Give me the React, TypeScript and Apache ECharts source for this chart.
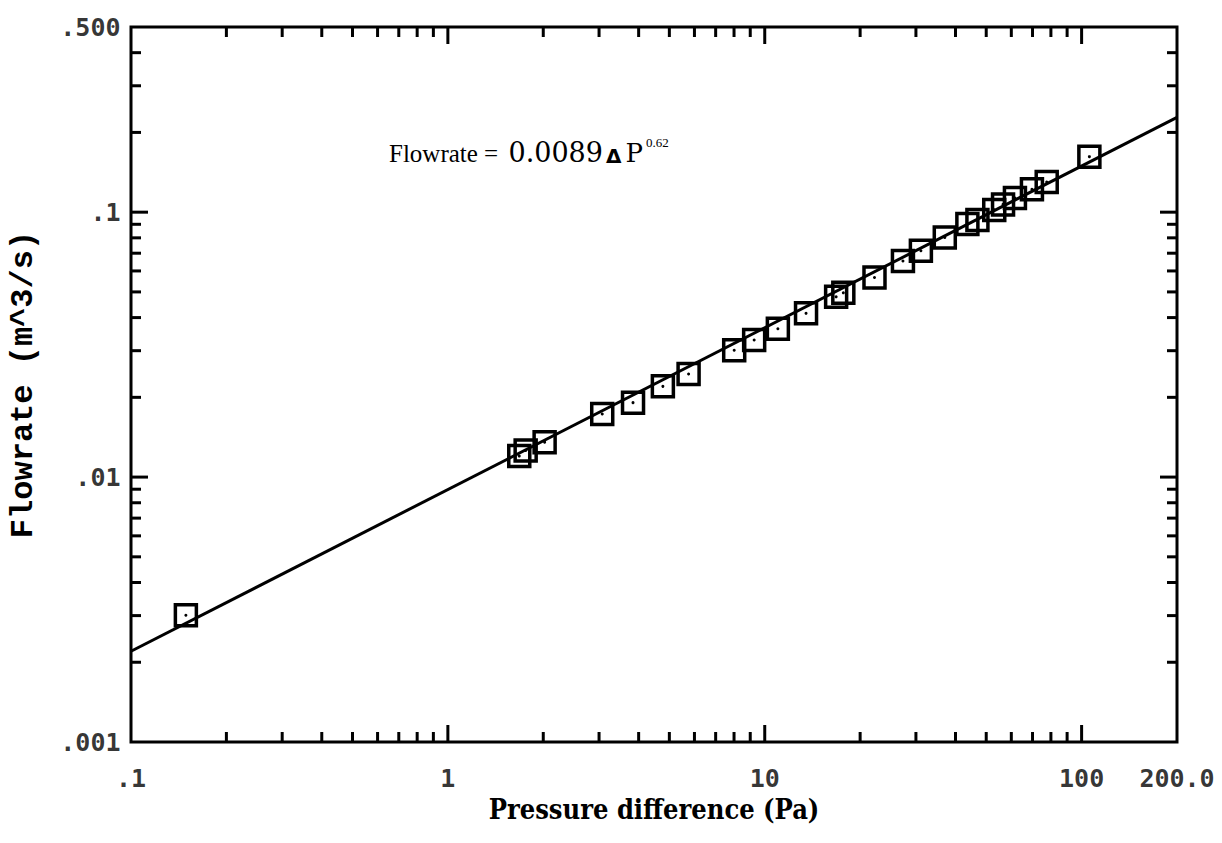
import React, { useEffect, useRef } from "react";
import * as echarts from "echarts";

const pressure = [0.149, 1.68, 1.76, 2.02, 3.07, 3.84, 4.77, 5.75, 8.01, 9.26, 11.0, 13.5, 16.8, 17.7, 22.2, 27.3, 31.1, 37.0, 43.6, 46.9, 53.0, 56.5, 61.6, 69.7, 77.6, 105.8];
const flowrate = [0.00301, 0.0120, 0.0126, 0.01355, 0.0173, 0.0191, 0.0220, 0.0245, 0.0301, 0.0329, 0.0363, 0.0415, 0.0479, 0.0496, 0.0567, 0.0654, 0.0715, 0.0803, 0.0902, 0.0935, 0.102, 0.107, 0.113, 0.122, 0.130, 0.162];

// Fitted line end points
const fitX = [0.1, 200];
const fitY = [0.0022, 0.228];

// Axis ranges and tick labels
const xMin = 0.1;
const xMax = 200;
const yMin = 0.001;
const yMax = 0.5;
const xLabelValues = [0.1, 1, 10, 100, 200];
const xLabelTexts = [".1", "1", "10", "100", "200.0"];
const yLabelValues = [0.001, 0.01, 0.1, 0.5];
const yLabelTexts = [".001", ".01", ".1", ".500"];
const xMajorTicks = [1, 10, 100];
const xMinorTicks = [0.2, 0.3, 0.4, 0.5, 0.6, 0.7, 0.8, 0.9, 2, 3, 4, 5, 6, 7, 8, 9, 20, 30, 40, 50, 60, 70, 80, 90];
const yMajorTicks = [0.01, 0.1];
const yMinorTicks = [0.002, 0.003, 0.004, 0.005, 0.006, 0.007, 0.008, 0.009, 0.02, 0.03, 0.04, 0.05, 0.06, 0.07, 0.08, 0.09, 0.2, 0.3, 0.4];

// Annotation text
const eqPrefix = "Flowrate = ";
const eqCoef = "0.0089";
const eqDelta = "Δ";
const eqVar = "P";
const eqExp = "0.62";

const INK = "#000";

export default function App() {
  const ref = useRef<HTMLDivElement>(null);

  useEffect(() => {
    if (!ref.current) return;
    const chart = echarts.init(ref.current, undefined, { renderer: "svg" });

    const xTickData = [
      ...xMajorTicks.map((v) => [v, yMin, 1]),
      ...xMinorTicks.map((v) => [v, yMin, 0]),
    ];
    const yTickData = [
      ...yMajorTicks.map((v) => [xMin, v, 1]),
      ...yMinorTicks.map((v) => [xMin, v, 0]),
    ];

    const eqText = `{m|${eqPrefix}}{n|${eqCoef}}{d|${eqDelta}}{p|${eqVar}}{s|${eqExp}}`;

    const option: any = {
      animation: false,
      backgroundColor: "#fff",
      grid: {
        left: 131,
        right: 45,
        top: 27,
        bottom: 101,
        containLabel: false,
        outerBoundsMode: "none",
        show: true,
        borderColor: INK,
        borderWidth: 3,
        backgroundColor: "transparent",
      },
      xAxis: {
        type: "log",
        logBase: 10,
        min: xMin,
        max: xMax,
        axisLine: { show: false },
        axisTick: { show: false },
        axisLabel: { show: false },
        splitLine: { show: false },
        minorTick: { show: false },
        name: "Pressure difference (Pa)",
        nameLocation: "middle",
        nameGap: 54,
        nameTextStyle: {
          fontFamily: "DejaVu Serif Condensed",
          fontWeight: "bold",
          fontSize: 27,
          color: INK,
        },
      },
      yAxis: {
        type: "log",
        logBase: 10,
        min: yMin,
        max: yMax,
        axisLine: { show: false },
        axisTick: { show: false },
        axisLabel: { show: false },
        splitLine: { show: false },
        minorTick: { show: false },
        name: "Flowrate (m^3/s)",
        nameLocation: "middle",
        nameRotate: 90,
        nameGap: 92,
        nameTextStyle: {
          fontFamily: "Liberation Mono",
          fontWeight: "bold",
          fontSize: 32,
          color: INK,
        },
      },
      graphic: [
        {
          type: "text",
          left: 389,
          top: 136,
          style: {
            text: eqText,
            rich: {
              m: { fontFamily: "Liberation Serif", fontSize: 25, fill: INK, verticalAlign: "bottom", lineHeight: 30 },
              n: { fontFamily: "DejaVu Serif", fontSize: 27, fill: INK, verticalAlign: "bottom", lineHeight: 30, padding: [0, 3, 0, 4] },
              d: { fontFamily: "DejaVu Sans", fontSize: 20, fontWeight: "bold", fill: INK, verticalAlign: "bottom", lineHeight: 28, padding: [0, 2, 0, 0] },
              p: { fontFamily: "DejaVu Serif", fontSize: 26, fill: INK, verticalAlign: "bottom", lineHeight: 30, padding: [0, 3, 0, 2] },
              s: { fontFamily: "Liberation Serif", fontSize: 13, fill: INK, verticalAlign: "top", lineHeight: 14 },
            },
          },
        },
      ],
      series: [
        {
          type: "line",
          data: fitX.map((x, i) => [x, fitY[i]]),
          symbol: "none",
          lineStyle: { color: INK, width: 3 },
          silent: true,
          z: 2,
        },
        {
          type: "scatter",
          data: pressure.map((p, i) => [p, flowrate[i]]),
          symbol: "rect",
          symbolSize: 21,
          itemStyle: { color: "rgba(0,0,0,0)", borderColor: INK, borderWidth: 3.5, opacity: 1 },
          z: 3,
        },
        {
          type: "scatter",
          data: pressure.map((p, i) => [p, flowrate[i]]),
          symbol: "circle",
          symbolSize: 3,
          itemStyle: { color: INK, opacity: 1 },
          silent: true,
          z: 3,
        },
        {
          type: "custom",
          silent: true,
          clip: false,
          data: xTickData,
          encode: { x: 0, y: 1 },
          renderItem: (_params: any, api: any) => {
            const v = api.value(0);
            const len = api.value(2) ? 17 : 10;
            const b = api.coord([v, yMin]);
            const t = api.coord([v, yMax]);
            return {
              type: "group",
              children: [
                { type: "line", shape: { x1: b[0], y1: b[1], x2: b[0], y2: b[1] - len }, style: { stroke: INK, lineWidth: 3 } },
                { type: "line", shape: { x1: t[0], y1: t[1], x2: t[0], y2: t[1] + len }, style: { stroke: INK, lineWidth: 3 } },
              ],
            };
          },
          z: 4,
        },
        {
          type: "custom",
          silent: true,
          clip: false,
          data: yTickData,
          encode: { x: 0, y: 1 },
          renderItem: (_params: any, api: any) => {
            const v = api.value(1);
            const len = api.value(2) ? 17 : 10;
            const l = api.coord([xMin, v]);
            const r = api.coord([xMax, v]);
            return {
              type: "group",
              children: [
                { type: "line", shape: { x1: l[0], y1: l[1], x2: l[0] + len, y2: l[1] }, style: { stroke: INK, lineWidth: 3 } },
                { type: "line", shape: { x1: r[0], y1: r[1], x2: r[0] - len, y2: r[1] }, style: { stroke: INK, lineWidth: 3 } },
              ],
            };
          },
          z: 4,
        },
        {
          type: "scatter",
          silent: true,
          symbol: "circle",
          symbolSize: 1,
          itemStyle: { color: "rgba(0,0,0,0)" },
          data: xLabelValues.map((v, i) => ({ value: [v, yMin], name: xLabelTexts[i] })),
          label: {
            show: true,
            position: "bottom",
            distance: 23,
            formatter: "{b}",
            fontFamily: "DejaVu Sans Mono",
            fontWeight: "bold",
            fontSize: 25,
            color: INK,
          },
          z: 5,
        },
        {
          type: "scatter",
          silent: true,
          symbol: "circle",
          symbolSize: 1,
          itemStyle: { color: "rgba(0,0,0,0)" },
          data: yLabelValues.map((v, i) => ({ value: [xMin, v], name: yLabelTexts[i] })),
          label: {
            show: true,
            position: "left",
            distance: 10,
            formatter: "{b}",
            fontFamily: "DejaVu Sans Mono",
            fontWeight: "bold",
            fontSize: 25,
            color: INK,
          },
          z: 5,
        },
      ],
    };

    chart.setOption(option);
    return () => chart.dispose();
  }, []);

  return (
    <div
      ref={ref}
      style={{ position: "fixed", left: 0, top: 0, width: 1222, height: 843, background: "#fff" }}
    />
  );
}
